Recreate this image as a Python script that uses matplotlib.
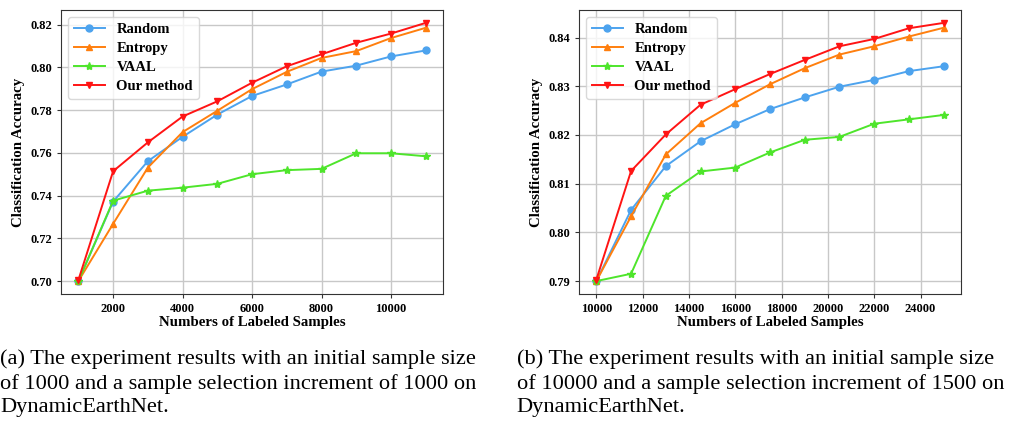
import numpy as np, matplotlib
matplotlib.use("Agg")
import matplotlib.pyplot as plt

# panel (a)
xa = [1000, 2000, 3000, 4000, 5000, 6000, 7000, 8000, 9000, 10000, 11000]
rand_a = [0.700, 0.7372, 0.7561, 0.7675, 0.7779, 0.7866, 0.7920, 0.7980, 0.8008, 0.8051, 0.8079]
ent_a = [0.700, 0.7268, 0.7531, 0.7697, 0.7797, 0.7898, 0.7979, 0.8044, 0.8076, 0.8137, 0.8185]
vaal_a = [0.700, 0.7376, 0.7423, 0.7437, 0.7455, 0.7500, 0.7519, 0.7525, 0.7598, 0.7598, 0.7584]
ours_a = [0.7005, 0.7514, 0.7649, 0.7770, 0.7841, 0.7928, 0.8005, 0.8061, 0.8115, 0.8158, 0.8208]

# panel (b)
xb = [10000, 11500, 13000, 14500, 16000, 17500, 19000, 20500, 22000, 23500, 25000]
rand_b = [0.790, 0.8046, 0.8136, 0.8187, 0.8222, 0.8253, 0.8277, 0.8299, 0.8313, 0.8331, 0.8341]
ent_b = [0.790, 0.8033, 0.8160, 0.8224, 0.8266, 0.8304, 0.8337, 0.8365, 0.8382, 0.8402, 0.8420]
vaal_b = [0.790, 0.7915, 0.8075, 0.8125, 0.8133, 0.8164, 0.8190, 0.8196, 0.8223, 0.8232, 0.8241]
ours_b = [0.7903, 0.8126, 0.8201, 0.8262, 0.8294, 0.8325, 0.8354, 0.8382, 0.8397, 0.8419, 0.8430]

labels = ['Random', 'Entropy', 'VAAL', 'Our method']
colors = ['#4da3ee', '#ff7f0e', '#4ee52b', '#ff1414']
markers = ['o', '^', '*', 'v']

captions = [
    "(a) The experiment results with an initial sample size\nof 1000 and a sample selection increment of 1000 on\nDynamicEarthNet.",
    "(b) The experiment results with an initial sample size\nof 10000 and a sample selection increment of 1500 on\nDynamicEarthNet.",
]

plt.rcParams['font.family'] = ['Liberation Serif', 'DejaVu Serif']

fig = plt.figure(figsize=(10.19, 4.23), dpi=100)
axa = fig.add_axes([0.0599, 0.305, 0.3749, 0.6714])
axb = fig.add_axes([0.5682, 0.305, 0.3749, 0.6714])

panels = [(axa, xa, [rand_a, ent_a, vaal_a, ours_a]),
          (axb, xb, [rand_b, ent_b, vaal_b, ours_b])]

for ax, x, ys in panels:
    for y, lab, c, m in zip(ys, labels, colors, markers):
        ms = 6 if m == '*' else 5
        ax.plot(x, y, color=c, marker=m, ms=ms, lw=1.4, label=lab)
    ax.grid(True, color='#c8c8c8', lw=1)
    ax.set_axisbelow(True)
    for s in ax.spines.values():
        s.set_color('#333333')
    ax.tick_params(labelsize=9, length=3, color='#333333')
    for t in ax.get_xticklabels() + ax.get_yticklabels():
        t.set_fontweight('bold')
    ax.set_xlabel('Numbers of Labeled Samples', fontsize=10.7, fontweight='bold', labelpad=1)
    ax.set_ylabel('Classification Accuracy', fontsize=10.7, fontweight='bold', labelpad=4)
    ax.legend(loc='upper left', prop={'weight': 'bold', 'size': 10.5}, handlelength=2.1,
              handletextpad=0.8, labelspacing=0.4, edgecolor='#d0d0d0', framealpha=0.8)

axa.set_yticks(np.arange(0.70, 0.821, 0.02))
axb.set_yticks(np.arange(0.79, 0.841, 0.01))
axb.set_xticks(np.arange(10000, 24001, 2000))

fig.text(0.0, 0.175, captions[0], fontsize=16.1, va='top', ha='left', linespacing=1.33)
fig.text(0.507, 0.175, captions[1], fontsize=16.1, va='top', ha='left', linespacing=1.33)

fig.savefig('out.png', dpi=100)
print('saved out.png')
